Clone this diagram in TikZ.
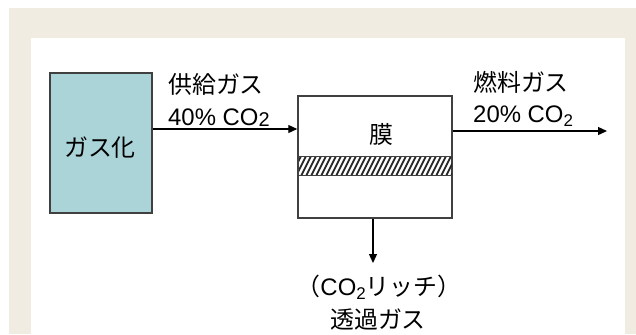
\documentclass[tikz,border=0pt]{standalone}
\usepackage{fontspec}
\setmainfont{Liberation Sans}
\newfontfamily\cjk{Noto Sans CJK JP}
\usetikzlibrary{arrows.meta}
\definecolor{beigebg}{RGB}{240,236,226}
\definecolor{gasblue}{RGB}{170,212,216}
\definecolor{edgegray}{RGB}{64,64,64}
\newcommand{\subtwo}{\raisebox{-0.2em}{\fontsize{17}{17}\selectfont 2}}
\newcommand{\subtwobig}{\raisebox{-0.06em}{\fontsize{20}{20}\selectfont 2}}
\tikzset{
  unitbox/.style={draw=edgegray, line width=1.5bp, inner sep=0pt, minimum width=#1},
  lbl/.style={inner sep=0pt, font=\fontsize{24}{28}\selectfont},
  arr/.style={line width=1.3bp, -{Triangle[length=9bp,width=8bp]}},
}
\begin{document}
\begin{tikzpicture}[x=1bp,y=-1bp]
\useasboundingbox (0,0) rectangle (636,334);
\fill[white] (0,0) rectangle (636,334);
\fill[beigebg] (9,8) rectangle (636,334);
\fill[white] (31,38) rectangle (625,334);

% gasifier
\node[unitbox=102bp, minimum height=140bp, fill=gasblue] (gas) at (101,143) {};
\node[lbl, anchor=base] (gastxt) at (100,156) {\cjk ガス化};

% membrane unit
\node[unitbox=154bp, minimum height=122bp, fill=white] (mem) at (375,157) {};
\node[lbl, anchor=base] (memtxt) at (381,143) {\cjk 膜};
\begin{scope}
  \clip (298,156) rectangle (452,175);
  \foreach \i in {0,...,34} {
    \draw[line width=1.8bp, black!85] ({290+5*\i},178) -- ({290+5*\i+11},156);
  }
\end{scope}
\draw[edgegray, line width=1bp] (298,156) rectangle (452,175);

% flows
\coordinate (feedy) at (0,129);
\coordinate (outy) at (0,131);
\coordinate (outend) at (607,131);
\coordinate (permend) at (373,263);
\draw[arr] (gas.east |- feedy) -- (mem.west |- feedy);
\draw[arr] (mem.east |- outy) -- (outend);
\draw[arr] (permend |- mem.south) -- (permend);

% labels
\node[lbl, anchor=base west] (feed1) at (168,93) {\cjk 供給ガス};
\node[lbl, anchor=base west] (feed2) at (168,125) {40\% CO\subtwobig};
\node[lbl, anchor=base west] (fuel1) at (473,91) {\cjk 燃料ガス};
\node[lbl, anchor=base west] (fuel2) at (473,122) {20\% CO\subtwo};
\node[lbl, anchor=base] (perm1) at (379,295) {{\cjk （}CO\subtwo{\cjk リッチ）}};
\node[lbl, anchor=base] (perm2) at (378,328) {\cjk 透過ガス};
\end{tikzpicture}
\end{document}
